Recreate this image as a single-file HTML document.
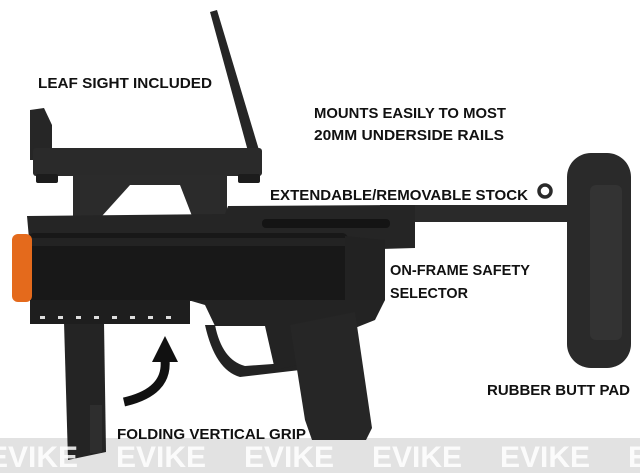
<!DOCTYPE html>
<html><head><style>
html,body{margin:0;padding:0;background:#fff;width:640px;height:473px;overflow:hidden}
svg{display:block}
text{font-family:"Liberation Sans Narrow","Liberation Sans",sans-serif;font-weight:bold;fill:#111;font-size:15px}
.w{fill:#fff;font-family:"Liberation Sans",sans-serif;font-size:30px;font-weight:bold;fill-opacity:.85}
</style></head><body>
<svg width="640" height="473" viewBox="0 0 640 473">
<rect x="0" y="438" width="640" height="35" fill="#e2e2e2"/>
<!-- folding grip -->
<path d="M64 322 L104 322 L106 452 L68 460 Z" fill="#242424"/>
<rect x="90" y="405" width="12" height="48" fill="#2e2e2e"/>
<!-- leaf sight -->
<path d="M210 12 L217 10 L262 160 L252 166 Z" fill="#262626"/>
<!-- rear sight -->
<path d="M30 110 L44 108 L52 125 L52 160 L30 160 Z" fill="#262626"/>
<!-- sight rail -->
<rect x="33" y="148" width="229" height="28" rx="3" fill="#2a2a2a"/>
<rect x="36" y="174" width="22" height="9" rx="2" fill="#1c1c1c"/>
<rect x="238" y="174" width="22" height="9" rx="2" fill="#1c1c1c"/>
<!-- mount -->
<path d="M73 175 L227 175 L227 225 L73 225 Z" fill="#2b2b2b"/>
<path d="M102 216 L130 185 L180 185 L192 216 Z" fill="#fff"/>
<!-- stock rod -->
<rect x="380" y="205" width="200" height="17" fill="#2a2a2a"/>
<circle cx="545" cy="191" r="6" fill="none" stroke="#2a2a2a" stroke-width="3.5"/>
<!-- receiver -->
<path d="M27 216 L225 214 L228 206 L415 205 L415 248 L345 250 L30 250 Z" fill="#252525"/>
<rect x="262" y="219" width="128" height="9" rx="4" fill="#141414"/>
<!-- barrel -->
<rect x="28" y="233" width="320" height="68" rx="6" fill="#181818"/>
<rect x="28" y="238" width="320" height="8" fill="#2e2e2e" opacity=".5"/>
<rect x="12" y="234" width="20" height="68" rx="6" fill="#e46a1c"/>
<!-- right frame -->
<path d="M345 236 L385 240 L385 300 L375 315 L345 315 Z" fill="#222"/>
<!-- lower rail -->
<rect x="30" y="300" width="160" height="24" fill="#1e1e1e"/>
<g fill="#ddd"><rect x="40" y="316" width="5" height="3"/><rect x="58" y="316" width="5" height="3"/><rect x="76" y="316" width="5" height="3"/><rect x="94" y="316" width="5" height="3"/><rect x="112" y="316" width="5" height="3"/><rect x="130" y="316" width="5" height="3"/><rect x="148" y="316" width="5" height="3"/><rect x="166" y="316" width="5" height="3"/></g>
<!-- trigger frame -->
<path d="M188 300 L385 300 L375 320 L350 330 L290 326 L215 326 L205 305 Z" fill="#232323"/>
<path d="M205 325 Q215 370 240 377 L300 370 L300 362 L245 366 Q222 360 215 325 Z" fill="#232323"/>
<path d="M265 326 L292 326 L298 365 L275 370 Z" fill="#232323"/>
<!-- pistol grip -->
<path d="M290 325 L355 312 L372 428 L366 440 L312 440 L305 420 Z" fill="#262626"/>
<!-- butt pad -->
<rect x="567" y="153" width="64" height="215" rx="24" fill="#2a2a2a"/>
<rect x="590" y="185" width="32" height="155" rx="6" fill="#333"/>
<!-- arrow -->
<path d="M124 402 Q168 392 165 360" fill="none" stroke="#111" stroke-width="9"/>
<path d="M152 362 L165 336 L178 362 Z" fill="#111"/>
<text x="38" y="88" textLength="174" lengthAdjust="spacingAndGlyphs">LEAF SIGHT INCLUDED</text>
<text x="314" y="118" textLength="192" lengthAdjust="spacingAndGlyphs">MOUNTS EASILY TO MOST</text>
<text x="314" y="140" textLength="190" lengthAdjust="spacingAndGlyphs">20MM UNDERSIDE RAILS</text>
<text x="270" y="200" textLength="258" lengthAdjust="spacingAndGlyphs">EXTENDABLE/REMOVABLE STOCK</text>
<text x="390" y="275" textLength="140" lengthAdjust="spacingAndGlyphs">ON-FRAME SAFETY</text>
<text x="390" y="298" textLength="78" lengthAdjust="spacingAndGlyphs">SELECTOR</text>
<text x="487" y="395" textLength="143" lengthAdjust="spacingAndGlyphs">RUBBER BUTT PAD</text>
<text x="117" y="439" textLength="189" lengthAdjust="spacingAndGlyphs">FOLDING VERTICAL GRIP</text>
<text class="w" x="-12" y="467">EVIKE</text>
<text class="w" x="116" y="467">EVIKE</text>
<text class="w" x="244" y="467">EVIKE</text>
<text class="w" x="372" y="467">EVIKE</text>
<text class="w" x="500" y="467">EVIKE</text>
<text class="w" x="628" y="467">EV</text>
</svg>
</body></html>
